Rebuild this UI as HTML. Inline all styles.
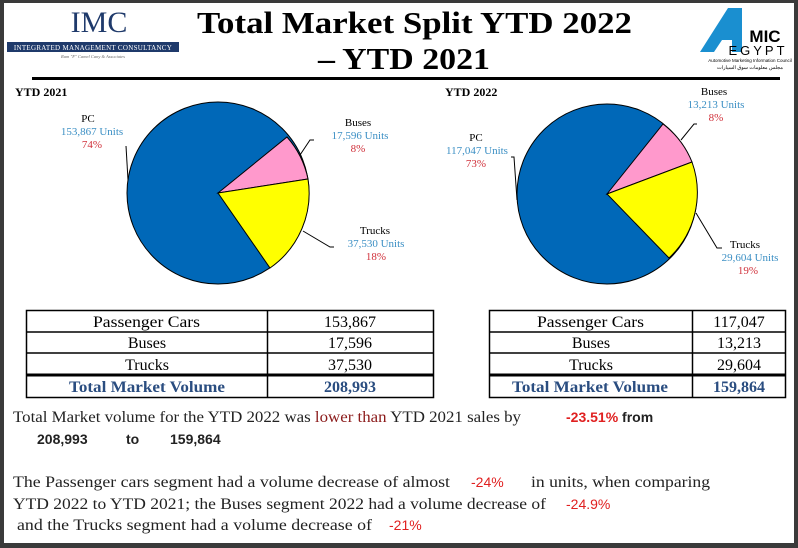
<!DOCTYPE html>
<html><head><meta charset="utf-8"><style>
body{margin:0;width:798px;height:548px;overflow:hidden;background:#3a3a3a}
svg{display:block}
</style></head><body>
<svg width="798" height="548" viewBox="0 0 798 548" xmlns="http://www.w3.org/2000/svg" font-family="'Liberation Serif',serif">
<rect x="4" y="3" width="790" height="540" fill="#fff"/>
<!-- IMC logo -->
<text x="99" y="32" font-size="30" fill="#1f3a6b" text-anchor="middle">IMC</text>
<rect x="7" y="42" width="172" height="10" fill="#1f3a6b"/>
<text x="93" y="50" font-size="7" fill="#fff" text-anchor="middle" letter-spacing="0.3">INTEGRATED MANAGEMENT CONSULTANCY</text>
<text x="93" y="58" font-size="4.5" fill="#666" text-anchor="middle" font-style="italic">Ram "F" Camel Cany &amp; Associates</text>
<!-- Title -->
<text x="197" y="33" font-size="31" font-weight="bold" fill="#000" textLength="435" lengthAdjust="spacingAndGlyphs">Total Market Split YTD 2022</text>
<text x="318" y="69" font-size="31" font-weight="bold" fill="#000" textLength="172" lengthAdjust="spacingAndGlyphs">– YTD 2021</text>
<rect x="32" y="77" width="748" height="3" fill="#000"/>
<!-- AMIC logo -->
<polygon points="700,52 728,8 742,8 742,52 732,52 732,40 722,40 714,52" fill="#1a8fd0"/>
<text x="765" y="42" font-size="17" font-weight="bold" font-family="'Liberation Sans',sans-serif" fill="#000" text-anchor="middle">MIC</text>
<text x="758" y="55" font-size="13" font-family="'Liberation Sans',sans-serif" fill="#000" text-anchor="middle" letter-spacing="3">EGYPT</text>
<text x="750" y="62" font-size="4.5" font-family="'Liberation Sans',sans-serif" fill="#000" text-anchor="middle">Automotive Marketing Information Council</text>
<text x="750" y="69" font-size="5" font-family="'Liberation Sans',sans-serif" fill="#000" text-anchor="middle">مجلس معلومات سوق السيارات</text>

<text x="15" y="96" font-size="12" font-weight="bold">YTD 2021</text>
<text x="445" y="96" font-size="12" font-weight="bold">YTD 2022</text>

<!-- Pie 1 -->
<g stroke="#000" stroke-width="1">
<circle cx="218" cy="193" r="91" fill="#0068b8"/>
<path d="M218,193 L287,137 A91,91 0 0,1 308,179 Z" fill="#ff99cc"/>
<path d="M218,193 L308,179 A91,91 0 0,1 270,268 Z" fill="#ffff00"/>
</g>
<g stroke="#000" stroke-width="1" fill="none">
<path d="M126,146 L128,180"/>
<path d="M300,155 L310,140 L314,140"/>
<path d="M303,231 L330,247 L334,247"/>
</g>
<g font-size="11" text-anchor="middle">
<text x="88" y="122">PC</text>
<text x="92" y="135" fill="#3b8fc4">153,867 Units</text>
<text x="92" y="148" fill="#d0303a">74%</text>
<text x="358" y="126">Buses</text>
<text x="360" y="139" fill="#3b8fc4">17,596 Units</text>
<text x="358" y="152" fill="#d0303a">8%</text>
<text x="375" y="234">Trucks</text>
<text x="376" y="247" fill="#3b8fc4">37,530 Units</text>
<text x="376" y="260" fill="#d0303a">18%</text>
</g>

<!-- Pie 2 -->
<g stroke="#000" stroke-width="1">
<circle cx="607" cy="194" r="90" fill="#0068b8"/>
<path d="M607,194 L663,124 A90,90 0 0,1 692,162 Z" fill="#ff99cc"/>
<path d="M607,194 L692,162 A90,90 0 0,1 669,258 Z" fill="#ffff00"/>
</g>
<g stroke="#000" stroke-width="1" fill="none">
<path d="M511,157 L514,157 L517,200"/>
<path d="M681,140 L694,124 L697,124"/>
<path d="M696,213 L717,248 L722,248"/>
</g>
<g font-size="11" text-anchor="middle">
<text x="476" y="141">PC</text>
<text x="477" y="154" fill="#3b8fc4">117,047 Units</text>
<text x="476" y="167" fill="#d0303a">73%</text>
<text x="714" y="95">Buses</text>
<text x="716" y="108" fill="#3b8fc4">13,213 Units</text>
<text x="716" y="121" fill="#d0303a">8%</text>
<text x="745" y="248">Trucks</text>
<text x="750" y="261" fill="#3b8fc4">29,604 Units</text>
<text x="748" y="274" fill="#d0303a">19%</text>
</g>

<!-- Table 1 -->
<g stroke="#000" fill="none">
<rect x="26.5" y="310.5" width="407" height="87" stroke-width="1.5"/>
<line x1="267.5" y1="310" x2="267.5" y2="397" stroke-width="1.5"/>
<line x1="26" y1="332" x2="434" y2="332" stroke-width="1.5"/>
<line x1="26" y1="353" x2="434" y2="353" stroke-width="1.5"/>
<line x1="26" y1="375" x2="434" y2="375" stroke-width="3"/>
</g>
<g font-size="16">
<text x="93" y="327" textLength="107" lengthAdjust="spacingAndGlyphs">Passenger Cars</text><text x="350" y="327" text-anchor="middle">153,867</text>
<text x="147" y="348" text-anchor="middle">Buses</text><text x="350" y="348" text-anchor="middle">17,596</text>
<text x="147" y="370" text-anchor="middle">Trucks</text><text x="350" y="370" text-anchor="middle">37,530</text>
<text x="69" y="392" fill="#2a4d80" font-weight="bold" textLength="156" lengthAdjust="spacingAndGlyphs">Total Market Volume</text><text x="350" y="392" fill="#2a4d80" font-weight="bold" text-anchor="middle">208,993</text>
</g>
<!-- Table 2 -->
<g stroke="#000" fill="none">
<rect x="489.5" y="310.5" width="296" height="87" stroke-width="1.5"/>
<line x1="692.5" y1="310" x2="692.5" y2="397" stroke-width="1.5"/>
<line x1="489" y1="332" x2="786" y2="332" stroke-width="1.5"/>
<line x1="489" y1="353" x2="786" y2="353" stroke-width="1.5"/>
<line x1="489" y1="375" x2="786" y2="375" stroke-width="3"/>
</g>
<g font-size="16">
<text x="537" y="327" textLength="107" lengthAdjust="spacingAndGlyphs">Passenger Cars</text><text x="739" y="327" text-anchor="middle">117,047</text>
<text x="591" y="348" text-anchor="middle">Buses</text><text x="739" y="348" text-anchor="middle">13,213</text>
<text x="591" y="370" text-anchor="middle">Trucks</text><text x="739" y="370" text-anchor="middle">29,604</text>
<text x="512" y="392" fill="#2a4d80" font-weight="bold" textLength="156" lengthAdjust="spacingAndGlyphs">Total Market Volume</text><text x="739" y="392" fill="#2a4d80" font-weight="bold" text-anchor="middle">159,864</text>
</g>

<!-- Paragraphs -->
<g font-size="16" fill="#222">
<text x="13" y="422" textLength="508" lengthAdjust="spacingAndGlyphs">Total Market volume for the YTD 2022 was <tspan fill="#8b1a1a">lower than</tspan> YTD 2021 sales by</text>
<text x="566" y="422" font-family="'Liberation Sans',sans-serif" font-size="14" font-weight="bold"><tspan fill="#e02020">-23.51%</tspan> from</text>
<g font-family="'Liberation Sans',sans-serif" font-size="14" font-weight="bold">
<text x="37" y="444">208,993</text><text x="126" y="444">to</text><text x="170" y="444">159,864</text>
</g>
<text x="13" y="487" textLength="437" lengthAdjust="spacingAndGlyphs">The Passenger cars segment had a volume decrease of almost</text>
<text x="471" y="487" font-family="'Liberation Sans',sans-serif" font-size="14" fill="#e02020">-24%</text>
<text x="531" y="487" textLength="179" lengthAdjust="spacingAndGlyphs">in units, when comparing</text>
<text x="13" y="509" textLength="533" lengthAdjust="spacingAndGlyphs">YTD 2022 to YTD 2021; the Buses segment 2022  had a volume decrease of</text>
<text x="566" y="509" font-family="'Liberation Sans',sans-serif" font-size="14" fill="#e02020">-24.9%</text>
<text x="17" y="530" textLength="355" lengthAdjust="spacingAndGlyphs">and the Trucks segment had a volume decrease of</text>
<text x="389" y="530" font-family="'Liberation Sans',sans-serif" font-size="14" fill="#e02020">-21%</text>
</g>
</svg>
</body></html>
